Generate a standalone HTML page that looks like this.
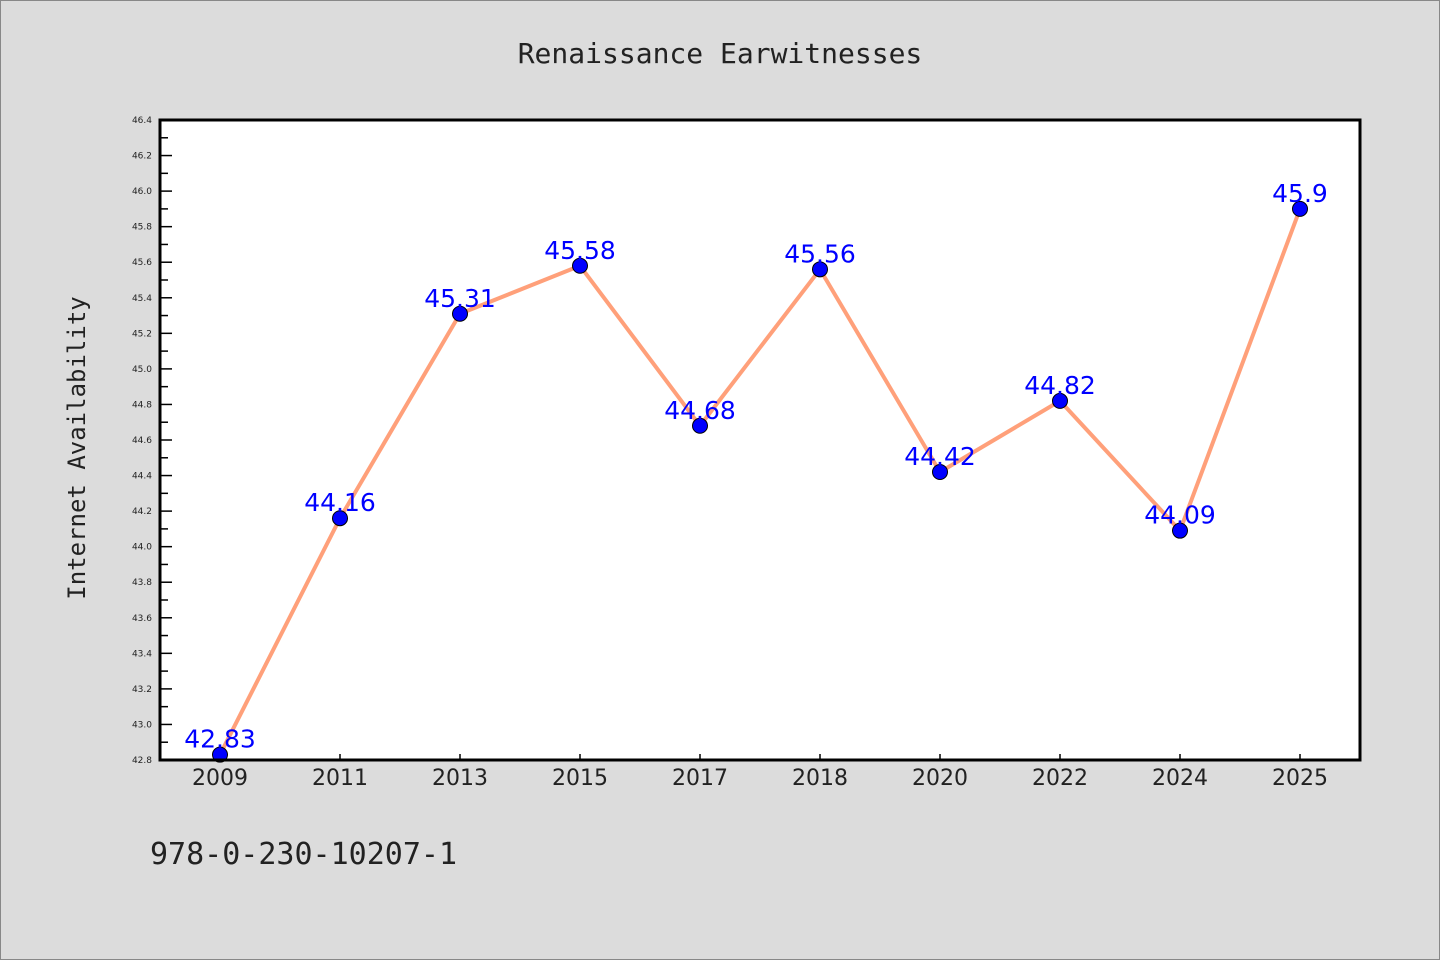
<!DOCTYPE html>
<html><head><meta charset="utf-8"><style>
body{margin:0;background:#dcdcdc;}
svg{display:block}
</style></head><body>
<svg width="1440" height="960" xmlns="http://www.w3.org/2000/svg">
<rect x="0.5" y="0.5" width="1439" height="959" fill="#dcdcdc" stroke="#888"/>
<text x="720" y="63" text-anchor="middle" font-family="DejaVu Sans Mono, monospace" font-size="28" fill="#222">Renaissance Earwitnesses</text>
<text transform="translate(85,448) rotate(-90)" text-anchor="middle" font-family="DejaVu Sans Mono, monospace" font-size="24" fill="#222">Internet Availability</text>
<text x="150" y="864" font-family="DejaVu Sans Mono, monospace" font-size="30" fill="#222">978-0-230-10207-1</text>
<rect x="160" y="120" width="1200" height="640" fill="#fff"/>
<g id="g"></g>
<rect x="160" y="120" width="1200" height="640" fill="none" stroke="#000" stroke-width="3"/>
</svg>
<script>
const categories=["2009","2011","2013","2015","2017","2018","2020","2022","2024","2025"];
const values=[42.83,44.16,45.31,45.58,44.68,45.56,44.42,44.82,44.09,45.9];
const labels=["42.83","44.16","45.31","45.58","44.68","45.56","44.42","44.82","44.09","45.9"];
const yTicks=[42.8,43.0,43.2,43.4,43.6,43.8,44.0,44.2,44.4,44.6,44.8,45.0,45.2,45.4,45.6,45.8,46.0,46.2,46.4];
const yMin=42.8,yMax=46.4;
const NS="http://www.w3.org/2000/svg";
const g=document.getElementById('g');
const L=160,T=120,W=1200,H=640;
const y=v=>T+H-(v-yMin)/(yMax-yMin)*H;
const x=i=>L+W/categories.length*(i+0.5);
function mk(t,a){const e=document.createElementNS(NS,t);for(const k in a)e.setAttribute(k,a[k]);g.appendChild(e);return e;}
yTicks.forEach((v,i)=>{
 const l=mk('line',{x1:L,x2:L+12,y1:y(v),y2:y(v),stroke:'#000','stroke-width':1.5});
 
 
 if(i<yTicks.length-1){const m=mk('line',{x1:L,x2:L+8,y1:y(v+0.1),y2:y(v+0.1),stroke:'#000','stroke-width':1.5});
 
 }
 const t=mk('text',{x:152,y:y(v)+3,'text-anchor':'end','font-family':'DejaVu Sans, sans-serif','font-size':9,fill:'#222'});
 t.textContent=v.toFixed(1);
 
 
});
categories.forEach((c,i)=>{
 const l=mk('line',{x1:x(i),x2:x(i),y1:T+H,y2:T+H-6,stroke:'#000','stroke-width':1.5});
 
 
 const t=mk('text',{x:x(i),y:785,'text-anchor':'middle','font-family':'DejaVu Sans, sans-serif','font-size':22,fill:'#222'});
 t.textContent=c;
 
 
});
const p=mk('polyline',{points:values.map((v,i)=>x(i)+','+y(v)).join(' '),fill:'none',stroke:'#ffa07a','stroke-width':4,'stroke-linejoin':'round'});


values.forEach((v,i)=>{
 const c=mk('circle',{cx:x(i),cy:y(v),r:7.5,fill:'#0000ff',stroke:'#000','stroke-width':1});
 
 
 const t=mk('text',{x:x(i),y:y(v)-7,'text-anchor':'middle','font-family':'DejaVu Sans, sans-serif','font-size':25,fill:'#0000ff'});
 t.textContent=labels[i];
 
 
});
</script>
</body></html>
